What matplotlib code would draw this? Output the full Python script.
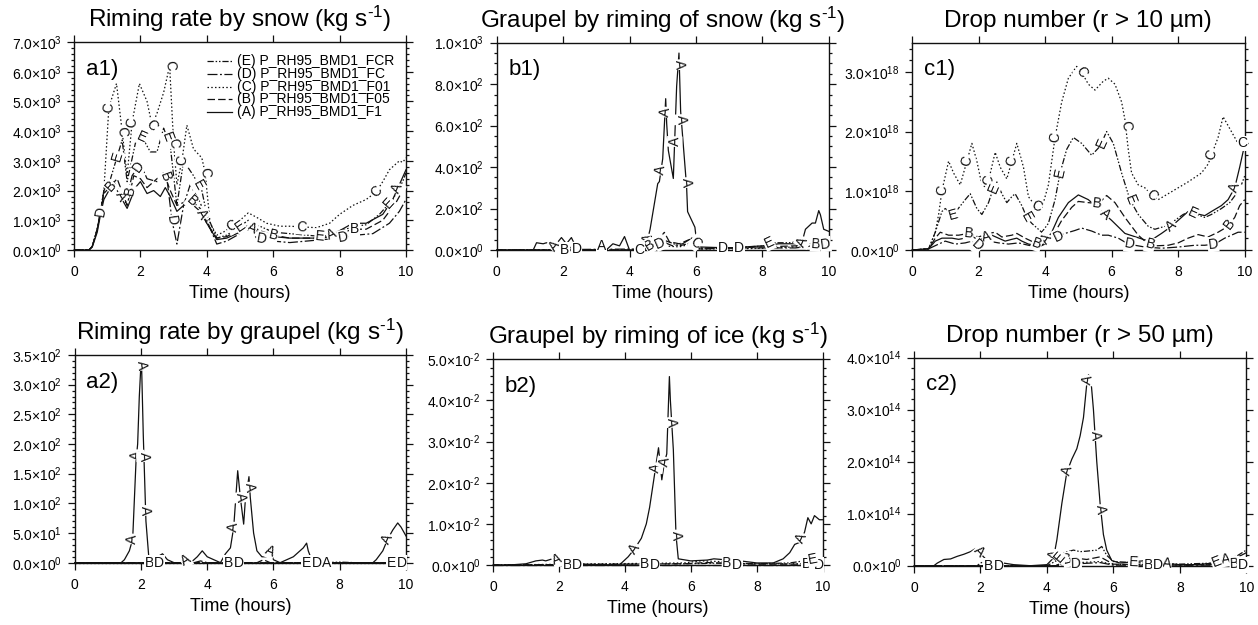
import numpy as np
import matplotlib
matplotlib.use('Agg')
import matplotlib.pyplot as plt
from matplotlib.ticker import MultipleLocator, FuncFormatter

plt.rcParams['font.family'] = ['Liberation Sans', 'DejaVu Sans']
plt.rcParams['mathtext.fontset'] = 'custom'
plt.rcParams['mathtext.rm'] = 'Liberation Sans'
plt.rcParams['mathtext.it'] = 'Liberation Sans:italic'
plt.rcParams['mathtext.bf'] = 'Liberation Sans:bold'
plt.rcParams['mathtext.sf'] = 'Liberation Sans'

INK = '#111111'

# runs, legend names and line styles
runs = ['A', 'B', 'C', 'D', 'E']
run_names = ['P_RH95_BMD1_F1', 'P_RH95_BMD1_F05', 'P_RH95_BMD1_F01',
             'P_RH95_BMD1_FC', 'P_RH95_BMD1_FCR']
run_styles = ['-', (0, (6, 2.5)), (0, (1.2, 1.8)), (0, (8, 2, 1.5, 2)),
              (0, (5, 1.5, 1.2, 1.5, 1.2, 1.5))]

# ---------------- a1: riming rate by snow (x 1e3 kg/s) ----------------
a1_A_t = [0, 0.45, 0.55, 0.7, 0.8, 0.9, 1.1, 1.3, 1.6, 1.85, 2.0, 2.2, 2.4, 2.6, 2.75, 2.9, 3.1, 3.3, 3.5, 3.8,
          4.0, 4.3, 4.6, 5.0, 5.3, 5.6, 6.0, 6.5, 7.0, 7.5, 8.0, 8.4, 8.8, 9.3, 9.6, 10]
a1_A_v = [0, 0, 0.1, 0.6, 1.2, 1.7, 2.1, 2.0, 1.4, 2.1, 2.3, 1.9, 2.0, 1.8, 2.1, 1.8, 1.3, 1.5, 1.6, 1.3,
          0.9, 0.35, 0.4, 0.6, 0.75, 0.6, 0.45, 0.4, 0.4, 0.4, 0.65, 0.9, 0.9, 1.2, 1.7, 2.7]
a1_B_t = [0, 0.45, 0.55, 0.7, 0.8, 0.9, 1.3, 1.6, 1.8, 2.0, 2.2, 2.5, 2.7, 2.9, 3.1, 3.3, 3.5, 3.8, 4.0,
          4.3, 4.6, 5.0, 5.3, 5.6, 6.0, 6.5, 7.0, 7.5, 8.0, 8.4, 8.8, 9.3, 9.7, 10]
a1_B_v = [0, 0, 0.12, 0.7, 1.3, 1.9, 2.4, 1.5, 2.5, 2.4, 2.1, 2.4, 2.6, 2.0, 1.5, 1.6, 1.7, 1.4, 0.9,
          0.4, 0.45, 0.7, 0.85, 0.65, 0.5, 0.4, 0.4, 0.4, 0.55, 0.7, 0.7, 1.0, 1.6, 2.2]
a1_C_t = [0, 0.45, 0.55, 0.7, 0.8, 0.9, 1.05, 1.28, 1.45, 1.6, 1.75, 1.97, 2.2, 2.35, 2.5, 2.7, 2.88, 3.0,
          3.1, 3.25, 3.4, 3.6, 3.85, 3.95, 4.1, 4.3, 4.5, 4.75, 5.0, 5.25, 5.5, 5.8, 6.2, 6.5, 6.85, 7.3,
          7.7, 8.0, 8.4, 8.8, 9.1, 9.3, 9.5, 9.8, 9.9, 10]
a1_C_v = [0, 0, 0.12, 0.7, 1.3, 2.0, 4.8, 5.6, 4.0, 2.5, 4.3, 5.6, 5.0, 4.2, 4.6, 5.3, 6.2, 3.6,
          2.2, 3.0, 4.2, 3.4, 3.1, 2.6, 0.9, 0.5, 0.6, 0.8, 1.0, 1.25, 1.1, 0.9, 0.8, 0.8, 0.78, 0.75,
          0.9, 1.2, 1.5, 1.7, 1.95, 2.3, 2.7, 3.0, 2.95, 3.1]
a1_D_t = [0, 0.45, 0.55, 0.7, 0.8, 0.9, 1.2, 1.55, 1.75, 2.0, 2.2, 2.5, 2.7, 2.8, 2.95, 3.1, 3.3, 3.5,
          3.8, 4.0, 4.3, 4.6, 5.0, 5.3, 5.5, 6.0, 6.5, 7.0, 7.5, 8.0, 8.5, 9.0, 9.5, 9.8, 10]
a1_D_v = [0, 0, 0.12, 0.7, 1.3, 2.0, 2.3, 1.6, 2.5, 2.9, 2.4, 2.3, 2.6, 2.4, 1.0, 0.2, 1.5, 2.2,
          1.6, 1.0, 0.2, 0.3, 0.55, 0.7, 0.4, 0.3, 0.25, 0.3, 0.35, 0.4, 0.5, 0.55, 0.9, 1.3, 1.7]
a1_E_t = [0, 0.45, 0.55, 0.7, 0.8, 0.9, 1.1, 1.45, 1.6, 1.85, 2.05, 2.3, 2.5, 2.7, 2.9, 3.0, 3.1, 3.3,
          3.6, 3.85, 4.0, 4.3, 4.6, 5.0, 5.25, 5.5, 6.0, 6.5, 7.0, 7.5, 8.0, 8.5, 8.8, 9.2, 9.6, 9.9, 10]
a1_E_v = [0, 0, 0.12, 0.7, 1.3, 2.0, 2.4, 3.7, 2.3, 3.6, 3.8, 3.3, 3.3, 4.1, 3.5, 2.5, 1.5, 3.0,
          2.5, 2.0, 1.2, 0.4, 0.5, 0.8, 1.0, 0.85, 0.6, 0.55, 0.5, 0.45, 0.65, 0.8, 0.85, 1.2, 1.7, 2.3, 2.6]
a1_labels = [('C', 1.05), ('C', 1.45), ('C', 1.75), ('C', 2.35), ('C', 2.88), ('C', 3.0), ('C', 3.25),
             ('C', 3.95), ('C', 4.75), ('C', 6.85), ('C', 9.1),
             ('E', 1.3), ('E', 2.05), ('E', 2.8), ('E', 3.75), ('E', 5.0), ('E', 7.4), ('E', 9.5),
             ('D', 0.8), ('D', 1.95), ('D', 2.95), ('D', 5.65), ('D', 8.1),
             ('B', 1.1), ('B', 1.7), ('B', 2.75), ('B', 3.55), ('B', 6.0), ('B', 8.45),
             ('A', 1.4), ('A', 3.85), ('A', 5.35), ('A', 7.75), ('A', 9.75)]

# ---------------- b1: graupel by riming of snow (x 1e2) ----------------
b1_A_t = [0, 1.1, 1.2, 1.4, 1.5, 1.7, 1.95, 2.1, 2.25, 2.4, 2.6, 3.0, 3.15, 3.3, 3.5, 3.7, 3.85, 4.0,
          4.3, 4.5, 4.62, 4.85, 4.9, 5.0, 5.09, 5.12, 5.17, 5.32, 5.42, 5.49, 5.54, 5.72, 5.75, 5.97,
          6.04, 7.0, 8.0, 8.5, 9.0, 9.2, 9.3, 9.5, 9.6, 9.7, 9.75, 9.85, 10]
b1_A_v = [0, 0, 0.35, 0.3, 0.35, 0.1, 0.6, 0.3, 0.6, 0.1, 0, 0, 0.2, 0, 0.3, 0.2, 0.65, 0,
          0, 0.2, 1.0, 3.2, 3.3, 4.4, 7.3, 6.1, 4.8, 3.45, 7.9, 9.5, 6.7, 3.05, 1.85, 1.1,
          0.15, 0.1, 0.2, 0.3, 0.3, 0.4, 1.0, 1.3, 1.3, 1.9, 1.7, 1.0, 0.9]
b1_B_t = [0, 2.1, 2.2, 2.3, 4.4, 4.8, 5.05, 5.2, 5.5, 5.8, 6.0, 6.1, 9.0, 9.5, 10]
b1_B_v = [0, 0, 0.15, 0, 0, 0.4, 0.85, 0.4, 0.3, 0.5, 0.6, 0.05, 0.2, 0.3, 0.25]
b1_C_t = [0, 4.5, 5.0, 5.5, 6.0, 6.1, 7.0, 8.0, 9.0, 10]
b1_C_v = [0, 0, 0.2, 0.15, 0.35, 0.05, 0.05, 0.08, 0.15, 0.2]
b1_D_t = [0, 4.5, 5.0, 5.3, 5.6, 5.9, 6.05, 7.0, 8.0, 9.0, 9.5, 10]
b1_D_v = [0, 0.05, 0.4, 0.2, 0.3, 0.6, 0.1, 0.1, 0.1, 0.1, 0.2, 0.3]
b1_E_t = [0, 1.9, 2.0, 2.2, 4.5, 5.0, 5.5, 6.0, 6.1, 7.0, 8.1, 8.2, 8.8, 9.1, 9.5, 10]
b1_E_v = [0, 0, 0.3, 0, 0, 0.5, 0.2, 0.4, 0.05, 0.1, 0.2, 0.35, 0.35, 0.4, 0.3, 0.3]
b1_labels = [('A', 1.75), ('A', 3.15), ('A', 4.55), ('A', 4.95), ('A', 5.07), ('A', 5.36), ('A', 5.5),
             ('A', 5.56), ('A', 5.71), ('A', 9.2),
             ('B', 2.05), ('B', 4.62), ('B', 9.6), ('D', 2.4), ('D', 4.92), ('D', 6.8), ('D', 7.3),
             ('D', 9.9), ('E', 8.2), ('C', 4.3), ('C', 6.0)]

# ---------------- c1: drop number r > 10 um (x 1e18) ----------------
c1_A_t = [0, 0.5, 0.7, 0.9, 1.2, 1.4, 1.6, 1.75, 1.9, 2.0, 2.2, 2.4, 2.6, 2.8, 3.0, 3.15, 3.3, 3.5, 3.8,
          3.95, 4.2, 4.4, 4.7, 5.0, 5.3, 5.6, 6.0, 6.4, 7.0, 7.2, 7.5, 7.8, 8.1, 8.3, 8.5, 8.8, 9.0,
          9.3, 9.5, 9.7, 9.85, 10]
c1_A_v = [0, 0.02, 0.15, 0.2, 0.2, 0.18, 0.2, 0.25, 0.2, 0.15, 0.22, 0.25, 0.2, 0.15, 0.18, 0.2, 0.15,
          0.1, 0.07, 0.1, 0.3, 0.55, 0.8, 0.93, 0.85, 0.7, 0.5, 0.28, 0.17, 0.17, 0.28, 0.4, 0.55, 0.65,
          0.62, 0.58, 0.65, 0.75, 0.85, 1.05, 1.4, 1.78]
c1_B_t = [0, 0.5, 0.7, 0.85, 1.1, 1.4, 1.7, 2.0, 2.3, 2.5, 2.7, 3.0, 3.15, 3.4, 3.7, 3.9, 4.2, 4.5,
          4.8, 5.0, 5.3, 5.6, 5.85, 6.1, 6.4, 6.8, 7.1, 7.3, 7.7, 8.0, 8.3, 8.6, 8.9, 9.2, 9.5, 9.7,
          9.85, 10]
c1_B_v = [0, 0.02, 0.2, 0.3, 0.25, 0.25, 0.28, 0.22, 0.28, 0.3, 0.22, 0.25, 0.28, 0.2, 0.12, 0.08,
          0.2, 0.5, 0.72, 0.82, 0.8, 0.78, 0.92, 0.8, 0.55, 0.25, 0.1, 0.07, 0.08, 0.12, 0.2, 0.26,
          0.22, 0.3, 0.4, 0.55, 0.75, 0.85]
c1_C_t = [0, 0.5, 0.7, 0.8, 0.9, 1.1, 1.25, 1.45, 1.6, 1.8, 1.95, 2.1, 2.25, 2.5, 2.65, 2.85, 3.0,
          3.15, 3.35, 3.5, 3.7, 3.9, 4.1, 4.3, 4.5, 4.7, 4.95, 5.1, 5.3, 5.5, 5.75, 5.9, 6.1, 6.3,
          6.4, 6.5, 6.6, 6.8, 7.0, 7.2, 7.4, 7.7, 8.0, 8.3, 8.7, 8.9, 9.0, 9.2, 9.35, 9.6, 9.8, 10]
c1_C_v = [0, 0.02, 0.3, 0.6, 1.0, 1.5, 1.3, 1.1, 1.4, 1.8, 1.5, 1.1, 1.05, 1.65, 1.4, 1.2, 1.5,
          1.8, 1.4, 0.9, 0.75, 0.7, 1.1, 1.9, 2.5, 2.9, 3.1, 3.0, 2.8, 2.7, 2.85, 2.9, 2.8, 2.5,
          2.2, 1.7, 1.3, 1.1, 1.05, 0.93, 0.85, 0.95, 1.05, 1.15, 1.3, 1.45, 1.6, 1.9, 2.25, 2.0, 1.8, 1.8]
c1_D_t = [0, 0.5, 0.8, 1.0, 1.3, 1.6, 1.8, 2.0, 2.3, 2.6, 2.9, 3.2, 3.5, 3.8, 4.0, 4.3, 4.6, 4.9,
          5.1, 5.4, 5.7, 5.9, 6.2, 6.5, 7.0, 7.5, 8.0, 8.5, 8.8, 9.1, 9.4, 9.8, 10]
c1_D_v = [0, 0.02, 0.1, 0.15, 0.1, 0.12, 0.15, 0.05, 0.15, 0.12, 0.1, 0.12, 0.08, 0.05, 0.1, 0.2,
          0.28, 0.33, 0.37, 0.32, 0.25, 0.25, 0.2, 0.1, 0.05, 0.03, 0.05, 0.08, 0.08, 0.1, 0.2, 0.3, 0.3]
c1_E_t = [0, 0.5, 0.7, 0.9, 1.0, 1.25, 1.6, 1.75, 1.95, 2.1, 2.3, 2.45, 2.55, 2.7, 2.85, 3.0, 3.1,
          3.3, 3.45, 3.6, 3.8, 3.9, 4.1, 4.3, 4.45, 4.65, 4.85, 5.1, 5.4, 5.65, 5.85, 6.05, 6.3, 6.55,
          6.8, 7.1, 7.3, 7.6, 7.9, 8.15, 8.35, 8.55, 8.8, 9.0, 9.3, 9.55, 9.75, 9.9, 10]
c1_E_v = [0, 0.02, 0.3, 0.65, 0.7, 0.6, 0.85, 0.95, 0.7, 0.6, 0.8, 1.05, 1.15, 0.95, 0.8, 0.9, 0.95,
          0.75, 0.55, 0.45, 0.35, 0.3, 0.45, 0.85, 1.3, 1.7, 1.9, 1.8, 1.6, 1.75, 2.0, 1.8, 1.3, 0.85,
          0.6, 0.4, 0.35, 0.4, 0.5, 0.6, 0.65, 0.6, 0.55, 0.6, 0.7, 0.8, 0.95, 1.1, 1.25]
c1_labels = [('C', 0.9), ('C', 1.65), ('C', 2.3), ('C', 3.0), ('C', 3.75), ('C', 4.3), ('C', 5.1),
             ('C', 6.42), ('C', 7.2), ('C', 9.0), ('C', 9.93),
             ('E', 1.25), ('E', 2.45), ('E', 3.45), ('E', 4.45), ('E', 5.7), ('E', 6.55), ('E', 8.45),
             ('B', 1.7), ('B', 3.75), ('B', 5.55), ('B', 7.15), ('B', 9.55),
             ('A', 2.25), ('A', 4.05), ('A', 5.8), ('A', 7.8), ('A', 9.7),
             ('D', 1.95), ('D', 4.4), ('D', 6.55), ('D', 9.05)]

# ---------------- a2: riming rate by graupel (x 1e2) ----------------
a2_A_t = [0, 1.4, 1.5, 1.65, 1.75, 1.85, 1.9, 1.95, 2.0, 2.02, 2.07, 2.15, 2.25, 2.5, 2.65, 2.8, 3.0,
          3.3, 3.35, 3.5, 3.7, 3.85, 4.0, 4.2, 4.4, 4.55, 4.7, 4.8, 4.92, 5.0, 5.1, 5.15, 5.26, 5.3,
          5.4, 5.5, 5.65, 5.8, 5.9, 6.0, 6.2, 6.4, 6.6, 6.8, 6.9, 7.0, 7.05, 7.15, 7.3, 9.0, 9.1, 9.3,
          9.45, 9.6, 9.75, 9.85, 10]
a2_A_v = [0, 0, 0.05, 0.2, 0.4, 1.7, 2.0, 2.8, 3.35, 3.3, 2.15, 0.7, 0, 0.1, 0.15, 0.05, 0,
          0, 0.05, 0, 0.1, 0.2, 0.1, 0.05, 0, 0.15, 0.25, 0.6, 1.55, 1.1, 0.65, 1.05, 1.45, 1.1,
          0.5, 0.2, 0.1, 0.1, 0.2, 0.05, 0, 0.05, 0.1, 0.2, 0.25, 0.33, 0.2, 0.05, 0, 0, 0.05, 0.2,
          0.4, 0.55, 0.67, 0.6, 0.45]
a2_B_t = [0, 5.5, 5.7, 5.9, 10]
a2_B_v = [0, 0, 0.05, 0, 0]
a2_C_t = [0, 10]
a2_C_v = [0, 0]
a2_D_t = [0, 3.6, 3.8, 4.0, 10]
a2_D_v = [0, 0, 0.03, 0, 0]
a2_E_t = [0, 7.5, 8.0, 8.5, 10]
a2_E_v = [0, 0, 0.01, 0, 0]
a2_labels = [('A', 1.75), ('A', 1.87), ('A', 2.01), ('A', 2.09), ('A', 2.14), ('A', 3.35), ('A', 4.8),
             ('A', 5.0), ('A', 5.28), ('A', 5.9), ('A', 7.6), ('A', 9.45),
             ('B', 2.25), ('B', 4.65), ('D', 2.55), ('D', 4.95), ('D', 7.3),
             ('D', 9.87), ('E', 7.0), ('E', 9.57)]

# ---------------- b2: graupel by riming of ice (x 1e-2) ----------------
b2_A_t = [0, 0.5, 1.0, 1.3, 1.5, 1.6, 1.8, 1.9, 2.0, 2.2, 2.5, 3.8, 3.9, 4.1, 4.3, 4.5, 4.65, 4.75,
          4.9, 5.02, 5.12, 5.2, 5.27, 5.35, 5.38, 5.47, 5.55, 5.62, 6.0, 6.5, 6.7, 7.0, 7.5, 8.0, 8.5,
          8.8, 9.0, 9.15, 9.3, 9.45, 9.55, 9.65, 9.75, 9.9, 10]
b2_A_v = [0, 0, 0.03, 0.1, 0.12, 0.1, 0.15, 0.12, 0.15, 0.05, 0.02, 0, 0.05, 0.2, 0.4, 0.65, 1.0, 1.4,
          2.2, 2.85, 2.07, 2.5, 2.7, 4.58, 4.0, 2.8, 0.73, 0.15, 0.1, 0.12, 0.15, 0.13, 0.1, 0.05, 0.05,
          0.15, 0.3, 0.5, 0.55, 0.8, 1.15, 1.0, 1.2, 1.1, 1.1]
b2_B_t = [0, 5.8, 6.5, 7.0, 8.0, 10]
b2_B_v = [0, 0.03, 0.06, 0.04, 0.02, 0.02]
b2_C_t = [0, 5.8, 6.3, 7.0, 7.5, 10]
b2_C_v = [0, 0.05, 0.1, 0.08, 0.03, 0.03]
b2_D_t = [0, 10]
b2_D_v = [0, 0]
b2_E_t = [0, 6.0, 7.0, 8.0, 9.0, 9.6, 9.8, 10]
b2_E_v = [0, 0.03, 0.05, 0.03, 0.05, 0.12, 0.15, 0.1]
b2_labels = [('A', 1.95), ('A', 4.3), ('A', 4.93), ('A', 5.2), ('A', 5.42), ('A', 5.55), ('A', 9.36),
             ('B', 2.25), ('B', 4.6), ('B', 7.1), ('B', 9.5), ('D', 2.55), ('D', 4.9), ('D', 7.4),
             ('D', 9.88), ('E', 9.7)]

# ---------------- c2: drop number r > 50 um (x 1e14) ----------------
c2_A_t = [0, 0.6, 0.7, 0.9, 1.1, 1.3, 1.5, 1.7, 1.85, 2.05, 2.2, 2.5, 2.7, 3.0, 3.5, 4.0, 4.2, 4.3,
          4.45, 4.6, 4.75, 4.9, 5.0, 5.1, 5.2, 5.25, 5.32, 5.4, 5.5, 5.6, 5.7, 5.8, 5.95, 6.2, 6.5,
          7.0, 7.5, 8.0, 8.5, 9.0, 9.3, 9.6, 9.85, 10]
c2_A_v = [0, 0, 0.05, 0.12, 0.13, 0.18, 0.22, 0.27, 0.33, 0.2, 0.1, 0.08, 0.05, 0.02, 0, 0.02, 0.15,
          0.5, 1.2, 1.8, 2.05, 2.25, 2.5, 2.85, 3.5, 3.67, 3.6, 3.0, 2.0, 1.2, 0.6, 0.3, 0.1, 0.05,
          0.07, 0.1, 0.05, 0.02, 0.02, 0.05, 0.12, 0.15, 0.2, 0.25]
c2_B_t = [0, 4.3, 4.5, 4.8, 5.2, 5.6, 5.8, 6.0, 7.0, 8.0, 9.0, 10]
c2_B_v = [0, 0, 0.1, 0.15, 0.12, 0.17, 0.1, 0.03, 0.02, 0.01, 0.02, 0.05]
c2_C_t = [0, 4.2, 4.5, 5.0, 5.6, 6.0, 10]
c2_C_v = [0, 0, 0.05, 0.06, 0.08, 0.02, 0.02]
c2_D_t = [0, 4.3, 4.6, 5.0, 5.6, 6.0, 10]
c2_D_v = [0, 0, 0.03, 0.04, 0.06, 0.01, 0.01]
c2_E_t = [0, 1.9, 2.0, 2.1, 2.2, 4.0, 4.3, 4.5, 4.8, 5.0, 5.2, 5.5, 5.65, 5.8, 6.0, 6.6, 7.0, 8.0,
          9.0, 9.4, 9.7, 10]
c2_E_v = [0, 0, 0.05, 0.08, 0, 0, 0.1, 0.25, 0.3, 0.27, 0.28, 0.3, 0.37, 0.2, 0.08, 0.06, 0.05,
          0.03, 0.05, 0.15, 0.18, 0.3]
c2_labels = [('A', 1.95), ('A', 4.22), ('A', 4.62), ('A', 5.22), ('A', 5.45), ('A', 5.62), ('A', 7.6),
             ('A', 9.4), ('E', 4.4), ('E', 6.6), ('E', 9.1), ('B', 2.25), ('B', 4.62), ('B', 7.05),
             ('B', 9.65), ('D', 2.55), ('D', 4.88), ('D', 7.33), ('D', 9.9)]


def sci_label(v, pos):
    if abs(v) < 1e-40:
        return r'$0.0{\times}10^{0}$'
    e = int(np.floor(np.log10(abs(v)) + 1e-9))
    m = v / 10.0 ** e
    if e < 0:
        return rf'${m:.1f}{{\times}}10^{{\text{{-{abs(e)}}}}}$'
    return rf'${m:.1f}{{\times}}10^{{{e}}}$'


def put_labels(ax, tt, vv, xs, letter):
    for x in xs:
        y = np.interp(x, tt, vv)
        p0 = ax.transData.transform((x - 0.04, np.interp(x - 0.04, tt, vv)))
        p1 = ax.transData.transform((x + 0.04, np.interp(x + 0.04, tt, vv)))
        ang = np.degrees(np.arctan2(p1[1] - p0[1], p1[0] - p0[0]))
        if ang > 90:
            ang -= 180
        if ang < -90:
            ang += 180
        ax.text(x, y, letter, rotation=ang, rotation_mode='anchor', ha='center', va='center',
                fontsize=10, color=INK, zorder=6, clip_on=False,
                bbox=dict(boxstyle='square,pad=0.05', fc='white', ec='none'))


W, H = 1258, 625
fig = plt.figure(figsize=(W / 100, H / 100), dpi=100)

unit_txt = r'(kg s$^{\text{-1}}$)'
panels = [
    # key, pixel box (l, t, r, b), title, ymax, major, minor, unit, tag
    ('a1', (74, 42, 406, 250), 'Riming rate by snow ' + unit_txt, 7e3, 1e3, 2e2, 1e3, 'a1)'),
    ('b1', (496.7, 42.7, 828.7, 250), 'Graupel by riming of snow ' + unit_txt, 1e3, 2e2, 5e1, 1e2, 'b1)'),
    ('c1', (912, 42.7, 1244.7, 250), 'Drop number (r > 10 µm)', 3.5e18, 1e18, 2e17, 1e18, 'c1)'),
    ('a2', (74.7, 355, 406, 562.7), 'Riming rate by graupel ' + unit_txt, 3.5e2, 5e1, 1e1, 1e2, 'a2)'),
    ('b2', (493, 359.3, 822.7, 565), 'Graupel by riming of ice ' + unit_txt, 5e-2, 1e-2, 2e-3, 1e-2, 'b2)'),
    ('c2', (914, 357.7, 1246.3, 565.7), 'Drop number (r > 50 µm)', 4e14, 1e14, 2e13, 1e14, 'c2)'),
]

g = globals()
for key, (l, t, r, b), title, ymax, major, minor, unit, tag in panels:
    ax = fig.add_axes([l / W, 1 - b / H, (r - l) / W, (b - t) / H])
    ax.set_xlim(0, 10)
    ax.set_ylim(0, ymax)
    ax.xaxis.set_major_locator(MultipleLocator(2))
    ax.yaxis.set_major_locator(MultipleLocator(major))
    ax.yaxis.set_minor_locator(MultipleLocator(minor))
    ax.yaxis.set_major_formatter(FuncFormatter(sci_label))
    ax.tick_params(which='both', direction='out', top=True, right=True, color=INK, width=0.9)
    ax.tick_params(which='major', length=5)
    ax.tick_params(which='minor', length=2.5)
    ax.tick_params(axis='x', which='minor', top=False, bottom=False)
    ax.tick_params(axis='x', labelsize=10, pad=6)
    ax.tick_params(axis='y', labelsize=10, pad=4)
    for s in ax.spines.values():
        s.set_linewidth(1.0)
        s.set_color(INK)
    ax.set_xlabel('Time (hours)', fontsize=13, labelpad=4)
    ax.set_title(title, fontsize=17.5, pad=11)
    ax.text(0.035, 0.92, tag, transform=ax.transAxes, fontsize=16, va='top', ha='left')

    for run, ls in zip(runs, run_styles):
        tt = np.array(g[f'{key}_{run}_t'])
        vv = np.array(g[f'{key}_{run}_v']) * unit
        ax.plot(tt, vv, color=INK, lw=0.9, linestyle=ls, clip_on=False, zorder=3)

    for run in runs:
        tt = np.array(g[f'{key}_{run}_t'])
        vv = np.array(g[f'{key}_{run}_v']) * unit
        xs = [x for (rn, x) in g[f'{key}_labels'] if rn == run]
        put_labels(ax, tt, vv, xs, run)

    if key == 'a1':
        # legend, listed E..A from top
        for i, idx in enumerate([4, 3, 2, 1, 0]):
            yy = 0.91 - i * 0.062
            ax.plot([0.40, 0.476], [yy, yy], transform=ax.transAxes, color=INK, lw=0.9,
                    linestyle=run_styles[idx], zorder=4)
            ax.text(0.491, yy, f'({runs[idx]}) {run_names[idx]}', transform=ax.transAxes,
                    fontsize=10, va='center', ha='left', zorder=4)

fig.savefig('out.png', dpi=100)
